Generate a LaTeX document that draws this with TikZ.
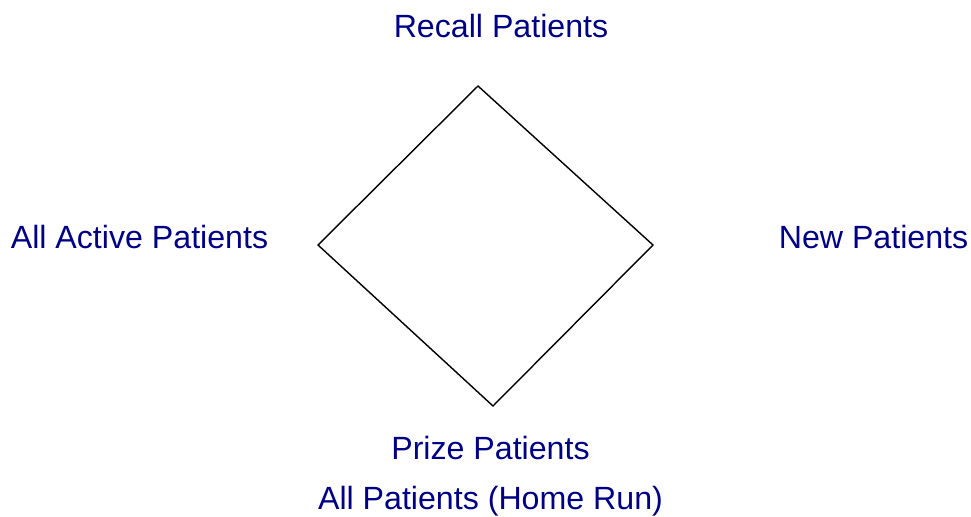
\documentclass[tikz,border=0pt]{standalone}
\usepackage{fontspec}
\setmainfont{Liberation Sans}
\usepackage{xcolor}
\usepackage{tikz}
\definecolor{LabelNavy}{HTML}{000085}

\begin{document}
\begin{tikzpicture}[
  x=0.02cm, y=-0.02cm,
  segment/.style={font=\fontsize{18.3}{21}\selectfont,text=LabelNavy,anchor=base,inner sep=0pt},
  field/.style={draw=black,line width=.8pt,line join=miter}
]
  \useasboundingbox (0,0) rectangle (971,517);

  % corners of the diamond
  \coordinate (home) at (493,406);
  \coordinate (first) at (653,245);
  \coordinate (second) at (478,86);
  \coordinate (third) at (318,245);
  \draw[field] (home) -- (first) -- (second) -- (third) -- cycle;

  \node[segment] (recall) at (501,38) {Recall Patients};
  \node[segment] (active) at (139.5,248) {All Active Patients};
  \node[segment] (new) at (873.5,248) {New Patients};
  \node[segment] (prize) at (490.5,459) {Prize Patients};
  \node[segment] (homerun) at (490.5,509) {All Patients (Home Run)};
\end{tikzpicture}
\end{document}
